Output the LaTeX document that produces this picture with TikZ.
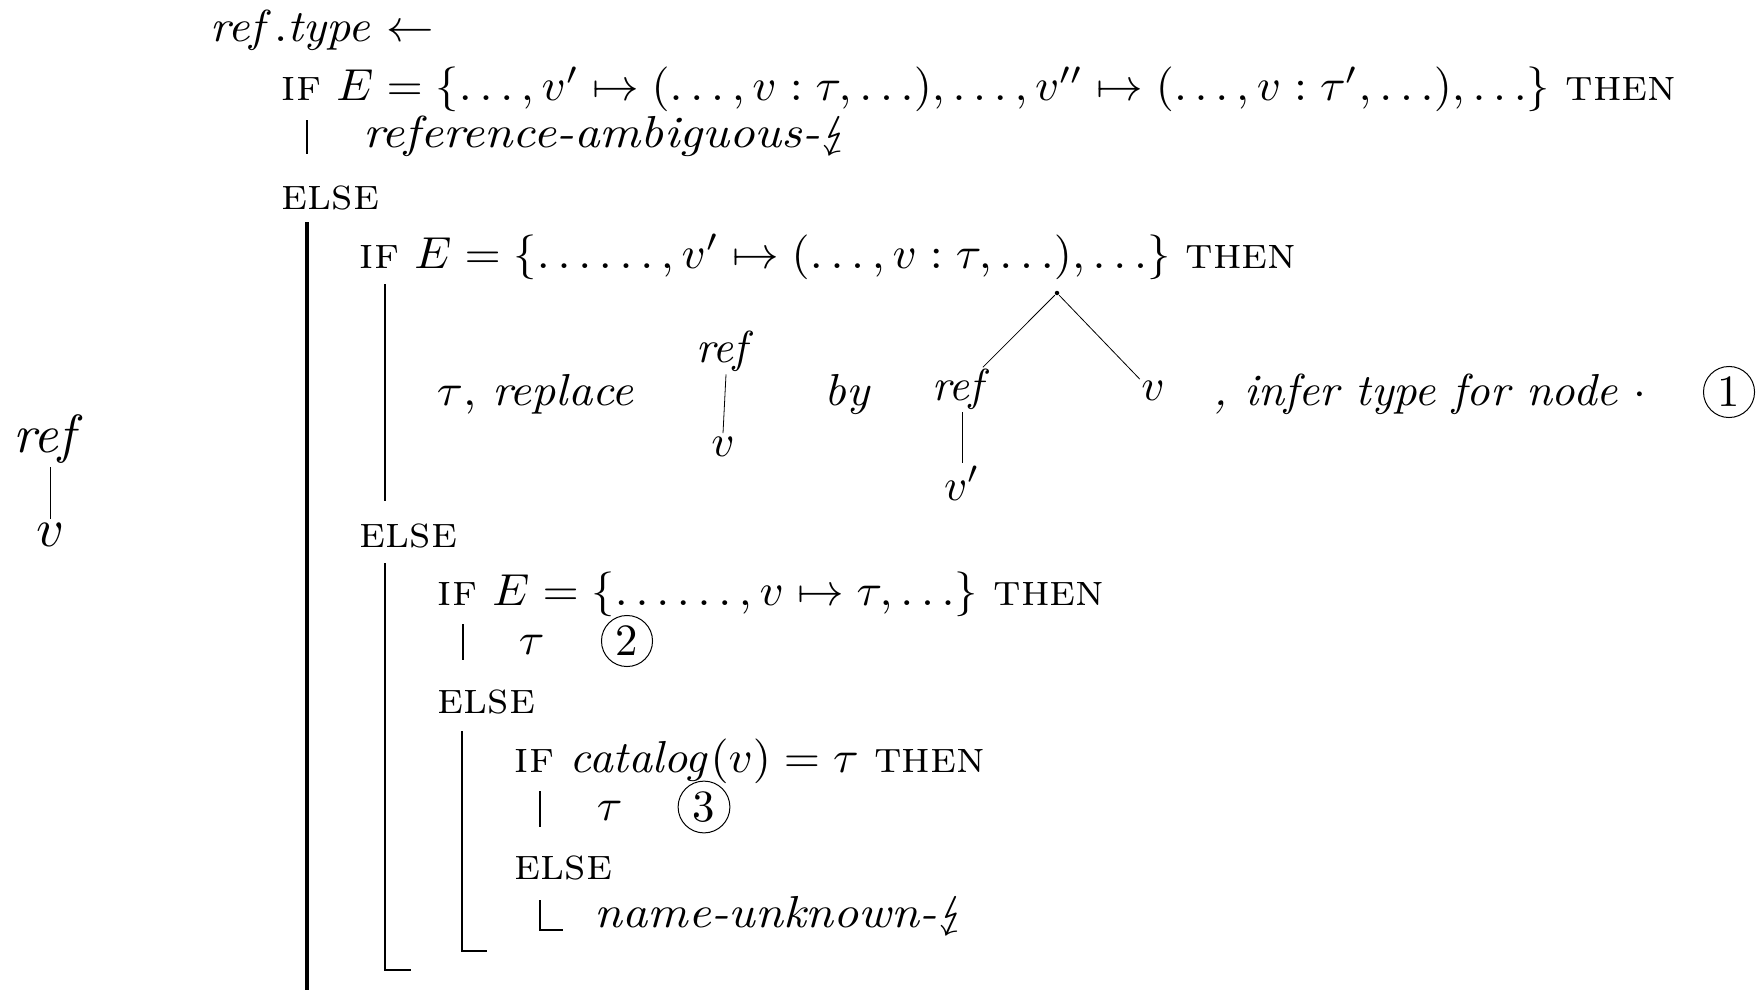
\documentclass[tikz,border=0pt]{standalone}
\usepackage{amsmath}
\usepackage{stmaryrd}
\newcommand{\kw}[1]{\textsc{#1}}
\begin{document}
\begin{tikzpicture}[x=0.5pt,y=-0.5pt,
  every node/.style={inner sep=0pt, font=\fontsize{10}{12}\selectfont, scale=2.24},
  txt/.style={anchor=base west, xscale=1.04},
  itx/.style={anchor=base west, xscale=1.06},
  tn/.style={anchor=base, inner sep=0.6pt},
  thickbar/.style={line width=2pt},
  bar/.style={line width=1pt},
  edge/.style={line width=0.4pt},
  num/.style={circle, draw, line width=0.5pt, inner sep=1.1pt, anchor=center}]
\useasboundingbox (0,0) rectangle (1764,990);

% left tree
\node[tn, scale=1.2] (lref) at (50,452) {$\mathit{ref}$};
\node[tn, scale=1.2] (lv) at (50,546) {$v$};
\draw[edge] (lref.south) -- (lv.north);

\node[itx] (head) at (209,42) {$\mathit{ref}.\mathit{type} \leftarrow$};
\node[txt] (if1) at (281,101) {\kw{if} $E = \{\ldots, v' \mapsto (\ldots, v : \tau, \ldots), \ldots, v'' \mapsto (\ldots, v : \tau', \ldots), \ldots\}$ \kw{then}};
\node[itx, xscale=1.055] (amb) at (362,148) {\textit{reference-ambiguous-}$\lightning$};
\node[txt] (else1) at (281,209) {\kw{else}};

\node[txt] (if2) at (359,268) {\kw{if} $E = \{\ldots\ldots, v' \mapsto (\ldots, v : \tau, \ldots), \ldots\}$ \kw{then}};
\node[itx] (repl) at (436,405) {$\tau$, \textit{replace}};
\node[tn] (t1ref) at (726,362) {$\mathit{ref}$};
\node[tn] (t1v) at (723,456) {$v$};
\draw[edge] (t1ref.south) -- (t1v.north);
\node[itx] (by) at (824,405) {\textit{by}};
\node[circle, fill, inner sep=0.3pt] (dot) at (1057,293) {};
\node[tn] (t2ref) at (962,400) {$\mathit{ref}$};
\node[tn] (t2v) at (1153,400) {$v$};
\node[tn] (t2vp) at (962,500) {$v'$};
\draw[edge] (dot) -- ([xshift=-6.5pt,yshift=-1pt]t2ref.north east);
\draw[edge] (dot) -- ([xshift=1pt,yshift=-1pt]t2v.north west);
\draw[edge] (t2ref.south) -- (t2vp.north);
\node[itx, xscale=0.97] (infer) at (1213,405) {\textit{, infer type for node} $\cdot$};
\node[num] (c1) at (1729,392) {1};

\node[txt] (else2) at (359,547) {\kw{else}};
\node[txt] (if3) at (437,605) {\kw{if} $E = \{\ldots\ldots, v \mapsto \tau, \ldots\}$ \kw{then}};
\node[txt] (tau2) at (518,654) {$\tau$};
\node[num] (c2) at (627,641) {2};
\node[txt] (else3) at (437,713) {\kw{else}};
\node[txt] (if4) at (514,772) {\kw{if} $\mathit{catalog}(v) = \tau$ \kw{then}};
\node[txt] (tau3) at (596,820) {$\tau$};
\node[num] (c3) at (704,807) {3};
\node[txt] (else4) at (514,879) {\kw{else}};
\node[itx, xscale=1.04] (unk) at (594,927) {\textit{name-unknown-}$\lightning$};

% bars
\draw[bar] (307,120) -- (307,154);
\draw[thickbar] (307,222) -- (307,990);
\draw[bar] (385,284) -- (385,501);
\draw[bar] (385,563) -- (385,970) -- (411,970);
\draw[bar] (463,624) -- (463,660);
\draw[bar] (462,731) -- (462,951) -- (487,951);
\draw[bar] (540,791) -- (540,827);
\draw[bar] (540,900) -- (540,930) -- (563,930);
\end{tikzpicture}
\end{document}
